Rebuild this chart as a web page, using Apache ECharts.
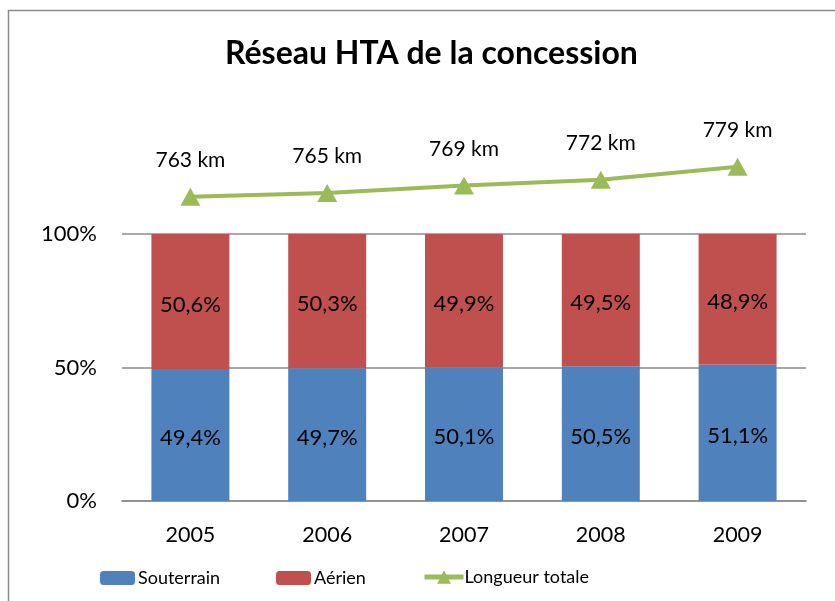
<!DOCTYPE html>
<html>
<head>
<meta charset="utf-8">
<script src="https://cdn.jsdelivr.net/npm/echarts@6/dist/echarts.min.js"></script>
<style>
html,body{margin:0;padding:0;background:#fff;}
#chart{width:835px;height:601px;}
</style>
</head>
<body>
<div id="chart"></div>
<script>
const categories = ['2005', '2006', '2007', '2008', '2009'];
const souterrain = [49.4, 49.7, 50.1, 50.5, 51.1];
const aerien = [50.6, 50.3, 49.9, 49.5, 48.9];
const longueur = [763, 765, 769, 772, 779];
const yTicks = [0, 50, 100];

const FONT = 'Lato';
const fmtPct = v => String(v).replace('.', ',') + '%';

const chart = echarts.init(document.getElementById('chart'), null, {renderer: 'canvas'});
chart.setOption({
  animation: false,
  textStyle: {fontFamily: FONT, color: '#000'},
  title: {
    text: 'Réseau HTA de la concession',
    left: 220, top: 33,
    textStyle: {fontFamily: FONT, fontWeight: 'bold', fontSize: 32, color: '#000'}
  },
  graphic: [{
    type: 'rect', silent: true,
    shape: {x: 8.5, y: 10.5, width: 900, height: 700},
    style: {fill: 'none', stroke: '#8a8a8a', lineWidth: 1.5}
  }],
  legend: [
    {data: ['Souterrain'], left: 95, top: 564, itemWidth: 35, itemHeight: 14, itemGap: 4,
     textStyle: {fontFamily: FONT, fontSize: 18, color: '#000', padding: [0,0,0,-2]}},
    {data: ['Aérien'], left: 271, top: 564, itemWidth: 35, itemHeight: 14,
     textStyle: {fontFamily: FONT, fontSize: 18, color: '#000', padding: [0,0,0,-2]}},
    {data: ['Longueur totale'], left: 417, top: 563, itemWidth: 39, itemHeight: 17,
     lineStyle: {width: 5},
     textStyle: {fontFamily: FONT, fontSize: 18, color: '#000', padding: [0,0,0,-4]}}
  ],
  grid: {left: 122, right: 29, top: 234, bottom: 100, containLabel: false},
  xAxis: {
    type: 'category', data: categories,
    axisLine: {lineStyle: {color: '#8c8c8c', width: 1.5}},
    axisTick: {show: false},
    axisLabel: {fontFamily: FONT, fontSize: 21.5, color: '#000', margin: 23}
  },
  yAxis: [{
    type: 'value', min: 0, max: 100, interval: 50,
    axisLine: {show: false}, axisTick: {show: false},
    splitLine: {lineStyle: {color: '#8c8c8c', width: 1.5}},
    axisLabel: {fontFamily: FONT, fontSize: 22, color: '#000', margin: 25,
      formatter: v => yTicks.includes(v) ? v + '%' : ''}
  }, {
    type: 'value', min: 600, max: 743, show: false, splitLine: {show: false}
  }],
  series: [{
    name: 'Souterrain', type: 'bar', stack: 'total', data: souterrain,
    barWidth: '57%', itemStyle: {color: '#4F81BD'},
    label: {show: true, position: 'inside', offset: [0, 3], fontFamily: FONT, fontSize: 22, color: '#000',
      formatter: p => fmtPct(p.value)}
  }, {
    name: 'Aérien', type: 'bar', stack: 'total', data: aerien,
    barWidth: '57%', itemStyle: {color: '#C0504D'},
    label: {show: true, position: 'inside', offset: [0, 3], fontFamily: FONT, fontSize: 22, color: '#000',
      formatter: p => fmtPct(p.value)}
  }, {
    name: 'Longueur totale', type: 'line', yAxisIndex: 1, data: longueur, clip: false,
    symbol: 'triangle', symbolSize: [20, 18],
    lineStyle: {color: '#9BBB59', width: 4},
    itemStyle: {color: '#9BBB59'},
    label: {show: true, position: 'top', distance: 17, fontFamily: FONT, fontSize: 21, color: '#000',
      formatter: p => p.value + ' km'}
  }]
});
</script>
</body>
</html>
